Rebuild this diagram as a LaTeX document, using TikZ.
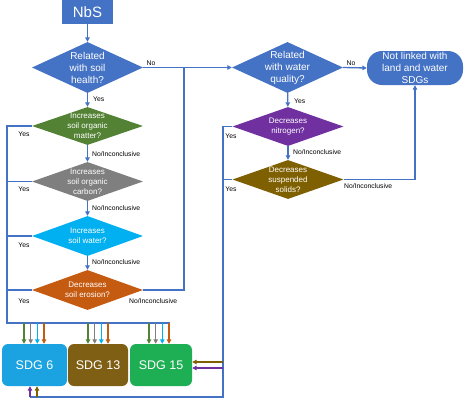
\documentclass[tikz,border=0pt]{standalone}
\usepackage{fontspec}
\setmainfont{Liberation Sans}
\usetikzlibrary{shapes.geometric,arrows.meta}
\definecolor{cblue}{HTML}{4472C4}
\definecolor{cgreen}{HTML}{548235}
\definecolor{cgray}{HTML}{7F7F7F}
\definecolor{ccyan}{HTML}{00B0F0}
\definecolor{corange}{HTML}{C55A11}
\definecolor{cpurple}{HTML}{7030A0}
\definecolor{cbrown}{HTML}{7F6000}
\definecolor{sdgsix}{HTML}{1AA3E0}
\definecolor{sdgthirteen}{HTML}{7F5F14}
\definecolor{sdgfifteen}{HTML}{1EAF55}
\begin{document}
\begin{tikzpicture}[x=1pt,y=-1pt,
 dia/.style={diamond, inner sep=0pt, minimum width=111pt},
 dtxt/.style={text=white, align=center, inner sep=0pt, font=\fontsize{8}{9.8}\selectfont},
 btxt/.style={text=white, align=center, inner sep=0pt, font=\fontsize{10}{12}\selectfont},
 lab/.style={font=\fontsize{6.8}{7}\selectfont, inner sep=0pt},
 bl/.style={draw=cblue, line width=1.3pt},
 arr/.style={-{Triangle[length=4.5pt,width=4.5pt]}},
 sdgbox/.style={rounded corners=6pt, minimum height=42pt, inner sep=0pt, text=white, font=\fontsize{12.5}{14}\selectfont}
]
\useasboundingbox (0,0) rectangle (465,400);

% top node
\node[fill=cblue, minimum width=51pt, minimum height=24pt, inner sep=0pt, text=white,
      font=\fontsize{15}{15}\selectfont] (nbs) at (87.5,12) {NbS};

% soil column
\node[dia, fill=cblue, minimum height=51pt] (d1) at (87.5,67.5) {};
\node[btxt] (t1) at (d1) {Related\\with soil\\health?};
\node[dia, fill=cgreen, minimum height=38pt] (dg) at (87.5,126) {};
\node[dtxt] (tg) at (dg) {Increases\\soil organic\\matter?};
\node[dia, fill=cgray, minimum height=39pt] (dgr) at (87.5,181.5) {};
\node[dtxt] (tgr) at (dgr) {Increases\\soil organic\\carbon?};
\node[dia, fill=ccyan, minimum height=40pt] (dc) at (87.5,236) {};
\node[dtxt] (tc) at (dc) {Increases\\soil water?};
\node[dia, fill=corange, minimum height=40pt] (do) at (87.5,290) {};
\node[dtxt] (to) at (do) {Decreases\\soil erosion?};

% water column
\node[dia, fill=cblue, minimum height=51pt] (dw) at (287.5,67.5) {};
\node[btxt] (tw) at (dw) {Related\\with water\\quality?};
\node[dia, fill=cpurple, minimum height=39pt] (dp) at (288,126.5) {};
\node[dtxt] (tp) at (dp) {Decreases\\nitrogen?};
\node[dia, fill=cbrown, minimum height=39pt] (db) at (288,179.5) {};
\node[dtxt] (tb) at (db) {Decreases\\suspended\\solids?};

\node[fill=cblue, rounded corners=15pt, minimum width=96pt, minimum height=34pt, btxt] (nl) at (415,68)
  {Not linked with\\land and water\\SDGs};

% SDG boxes
\node[sdgbox, fill=sdgsix, minimum width=65pt] (s6) at (34.5,365) {SDG 6};
\node[sdgbox, fill=sdgthirteen, minimum width=60pt] (s13) at (98,365) {SDG 13};
\node[sdgbox, fill=sdgfifteen, minimum width=62pt] (s15) at (161,365) {SDG 15};

% coordinates
\coordinate (jn) at (184,67.5);
\coordinate (lb) at (7,323);
\coordinate (le) at (170,323);
\coordinate (rx) at (223,397);
\coordinate (rb) at (30,397);

% main flow arrows
\draw[bl, arr] (nbs) -- (d1);
\draw[bl, arr] (d1) -- (dg);
\draw[bl, arr] (dg) -- (dgr);
\draw[bl, arr] (dgr) -- (dc);
\draw[bl, arr] (dc) -- (do);
\draw[bl, arr] (d1.east) -- (dw.west);
\draw[bl] (do.east) -- (do.east -| jn) -- (jn);
\draw[bl, arr] (dw.east) -- (nl.west);
\draw[bl, arr] (dw) -- (dp);
\draw[bl, arr] (dp) -- (db);
\draw[bl, arr] (db.east) -- (db.east -| nl.south) -- (nl.south);

% left Yes bus
\draw[bl] (dg.west) -- (dg.west -| lb) -- (lb) -- (le);
\draw[bl] (dgr.west) -- (dgr.west -| lb);
\draw[bl] (dc.west) -- (dc.west -| lb);
\draw[bl] (do.west) -- (do.west -| lb);

% right Yes bus
\draw[bl] (dp.west) -- (dp.west -| rx) -- (rx) -- (rb);
\draw[bl] (db.west) -- (db.west -| rx);

% coloured arrows into SDG boxes
\foreach \s/\xs in {s6/24,s13/88,s15/149}
  \foreach \c/\d in {cgreen/0,cgray/6.7,ccyan/13.3,corange/20}
    \draw[arr, \c, line width=1.3pt] (\xs+\d,323) -- (\xs+\d,323 |- \s.north);
\draw[arr, cpurple, line width=1.3pt] (rb) -- (rb |- s6.south);
\draw[arr, cbrown, line width=1.3pt] (37,397) -- (37,397 |- s6.south);
\draw[arr, cbrown, line width=1.3pt] (223,362) -- (223,362 -| s15.east);
\draw[arr, cpurple, line width=1.3pt] (223,368) -- (223,368 -| s15.east);

% labels
\node[lab] (l1) at (151,63) {No};
\node[lab, anchor=west] (l2) at (93,99) {Yes};
\node[lab] (l3) at (24,134) {Yes};
\node[lab, anchor=west] (l4) at (92,154) {No/Inconclusive};
\node[lab] (l5) at (24,189) {Yes};
\node[lab, anchor=west] (l6) at (92,208) {No/Inconclusive};
\node[lab] (l7) at (24,245) {Yes};
\node[lab, anchor=west] (l8) at (92,262) {No/Inconclusive};
\node[lab] (l9) at (24,301) {Yes};
\node[lab, anchor=west] (l10) at (129,301) {No/Inconclusive};
\node[lab] (l11) at (351,63) {No};
\node[lab, anchor=west] (l12) at (294,101) {Yes};
\node[lab] (l13) at (231,136) {Yes};
\node[lab, anchor=west] (l14) at (293,152) {No/Inconclusive};
\node[lab] (l15) at (231,189) {Yes};
\node[lab, anchor=west] (l16) at (344,186) {No/Inconclusive};
\end{tikzpicture}
\end{document}
